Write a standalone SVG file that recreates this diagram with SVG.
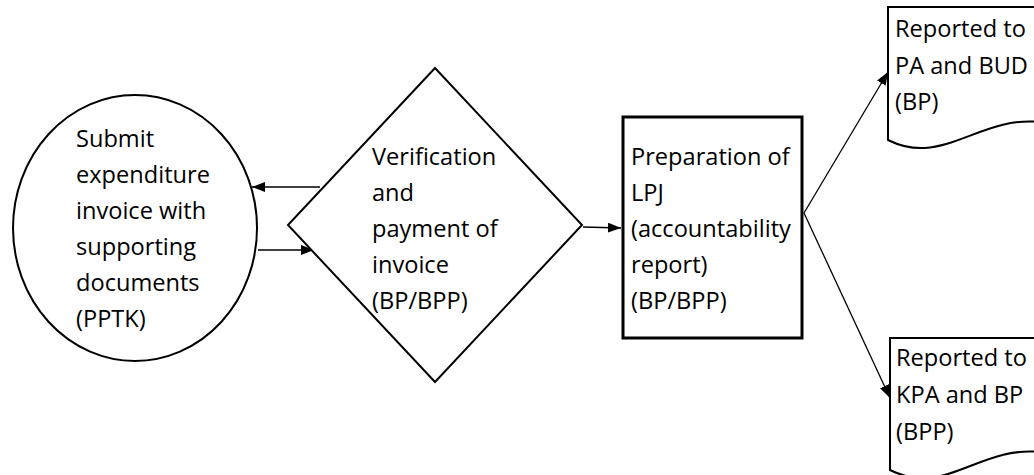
<svg xmlns="http://www.w3.org/2000/svg" width="1034" height="475" viewBox="0 0 1034 475">
<defs>
<marker id="ah" viewBox="0 0 13 10" refX="13" refY="5" markerWidth="13" markerHeight="10" markerUnits="userSpaceOnUse" orient="auto">
<path d="M0,0 L13,5 L0,10 Z" fill="#000"/>
</marker>
<style>
.shape{fill:#fff;stroke:#000;stroke-width:2}
.thick{stroke-width:3}
.conn{fill:none;stroke:#000;stroke-width:1.3;marker-end:url(#ah)}
text{font-family:"Open Sans","Liberation Sans",sans-serif;font-size:23.6px;fill:#000}
</style>
</defs>
<rect width="1034" height="475" fill="#fff"/>
<g id="connectors">
<line class="conn" x1="320" y1="187" x2="252" y2="187"/>
<line class="conn" x1="258" y1="250" x2="314" y2="250"/>
<line class="conn" x1="583" y1="227" x2="621" y2="228"/>
<line class="conn" x1="804" y1="213" x2="888" y2="72"/>
<line class="conn" x1="804" y1="213" x2="890" y2="398"/>
</g>
<g id="submit">
<ellipse class="shape" cx="135" cy="228" rx="122" ry="133"/>
<text x="76" y="147">Submit</text>
<text x="76" y="183">expenditure</text>
<text x="76" y="219">invoice with</text>
<text x="76" y="255">supporting</text>
<text x="76" y="291">documents</text>
<text x="76" y="327">(PPTK)</text>
</g>
<g id="verify">
<polygon class="shape" points="435,68 582,225 435,382 288,225"/>
<text x="372" y="165">Verification</text>
<text x="372" y="201">and</text>
<text x="372" y="237">payment of</text>
<text x="372" y="273">invoice</text>
<text x="372" y="309">(BP/BPP)</text>
</g>
<g id="lpj">
<rect class="shape thick" x="623" y="117" width="179" height="221"/>
<text x="631" y="165">Preparation of</text>
<text x="631" y="201">LPJ</text>
<text x="631" y="237">(accountability</text>
<text x="631" y="273">report)</text>
<text x="631" y="309">(BP/BPP)</text>
</g>
<g id="doc-pa">
<path class="shape" d="M888,7 L1040,7 L1040,122 C995,117 960,146 925,148 C908,149 896,144 888,140 Z"/>
<text x="895" y="37">Reported to</text>
<text x="895" y="74">PA and BUD</text>
<text x="895" y="110">(BP)</text>
</g>
<g id="doc-kpa">
<path class="shape" d="M890,338 L1040,338 L1040,452 C995,447 962,476 927,478 C910,479 898,474 890,470 Z"/>
<text x="896" y="366">Reported to</text>
<text x="896" y="403">KPA and BP</text>
<text x="896" y="440">(BPP)</text>
</g>
</svg>
